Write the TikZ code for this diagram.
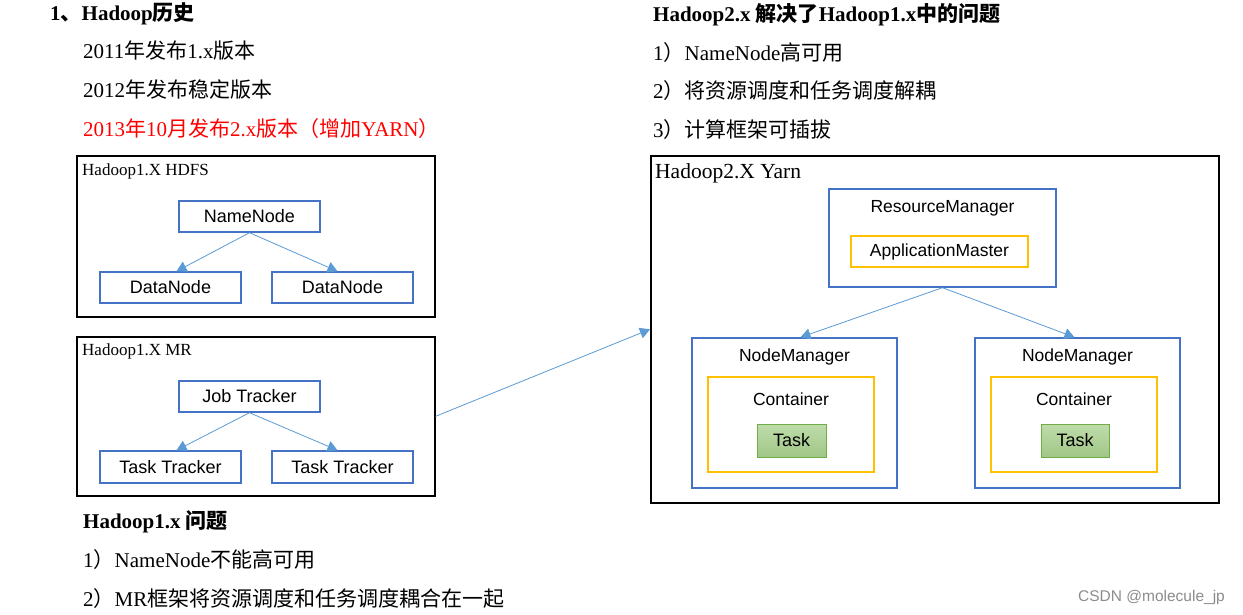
\documentclass[tikz,border=0pt]{standalone}
\usepackage{fontspec}
\setmainfont{Liberation Serif}
\newfontfamily\cjk{Noto Sans CJK SC}
\newfontfamily\arial{Liberation Sans}
\usetikzlibrary{arrows.meta}
\newcommand{\zh}[1]{{\cjk #1}}
\definecolor{bblue}{HTML}{4472C4}
\definecolor{lblue}{HTML}{5B9BD5}
\definecolor{gold}{HTML}{FFC000}
\definecolor{gfill}{HTML}{A9D18E}
\definecolor{gline}{HTML}{70AD47}
\begin{document}
\begin{tikzpicture}[x=1pt,y=-1pt,
  txt/.style={anchor=west,inner sep=0pt,font=\fontsize{21}{25}\selectfont},
  hd/.style={txt,font=\fontsize{21}{25}\selectfont\bfseries},
  frame/.style={draw=black,line width=1.6pt,anchor=north west,inner sep=0pt},
  flabel/.style={anchor=west,inner sep=0pt,font=\fontsize{17}{20}\selectfont},
  bbox/.style={draw=bblue,line width=1.4pt,inner sep=0pt,font=\arial\fontsize{18}{21}\selectfont},
  gbox/.style={draw=gold,line width=1.3pt,inner sep=0pt},
  tbox/.style={draw=gline,line width=0.8pt,top color=gfill!75!white,bottom color=gfill!95!black,inner sep=0pt,font=\arial\fontsize{18}{21}\selectfont},
  lab/.style={inner sep=0pt,font=\arial\fontsize{17.5}{21}\selectfont},
  conn/.style={draw=lblue,line width=0.8pt,-{Triangle[length=10pt,width=11pt]}}
]
\useasboundingbox (0,0) rectangle (1243,615);
\fill[white] (0,0) rectangle (1243,615);

% left texts
\node[hd] (t1) at (50,14) {1\zh{、}Hadoop{\cjk\bfseries 历史}};
\node[txt] (t2) at (83,51) {2011\zh{年发布}1.x\zh{版本}};
\node[txt] (t3) at (83,90) {2012\zh{年发布稳定版本}};
\node[txt,text=red] (t4) at (83,129) {2013\zh{年}10\zh{月发布}2.x\zh{版本（增加}YARN\zh{）}};

% HDFS frame
\node[frame,minimum width=358pt,minimum height=161pt] (hdfs) at (76,155) {};
\node[flabel] (hdfsl) at (82,171) {Hadoop1.X HDFS};
\node[bbox,minimum width=141pt,minimum height=31pt] (nn) at (249.5,216.5) {NameNode};
\node[bbox,minimum width=141pt,minimum height=31pt] (dn1) at (170.5,287.5) {DataNode};
\node[bbox,minimum width=141pt,minimum height=31pt] (dn2) at (342.5,287.5) {DataNode};
\draw[conn] (nn.south) -- ([xshift=6pt]dn1.north);
\draw[conn] (nn.south) -- ([xshift=-5pt]dn2.north);

% MR frame
\node[frame,minimum width=358pt,minimum height=159pt] (mr) at (76,336) {};
\node[flabel] (mrl) at (82,351) {Hadoop1.X MR};
\node[bbox,minimum width=141pt,minimum height=31pt] (jt) at (249.5,396.5) {Job Tracker};
\node[bbox,minimum width=141pt,minimum height=32pt] (tt1) at (170.5,467) {Task Tracker};
\node[bbox,minimum width=141pt,minimum height=32pt] (tt2) at (342.5,467) {Task Tracker};
\draw[conn] (jt.south) -- ([xshift=6pt]tt1.north);
\draw[conn] (jt.south) -- ([xshift=-5pt]tt2.north);

% bottom-left texts
\node[hd] (p0) at (83,522) {Hadoop1.x {\cjk\bfseries 问题}};
\node[txt] (p1) at (83,560) {1\zh{）}NameNode\zh{不能高可用}};
\node[txt] (p2) at (83,599) {2\zh{）}MR\zh{框架将资源调度和任务调度耦合在一起}};

% right texts
\node[hd] (r0) at (653,15) {Hadoop2.x {\cjk\bfseries 解决了}Hadoop1.x{\cjk\bfseries 中的问题}};
\node[txt] (r1) at (653,53) {1\zh{）}NameNode\zh{高可用}};
\node[txt] (r2) at (653,91) {2\zh{）将资源调度和任务调度解耦}};
\node[txt] (r3) at (653,130) {3\zh{）计算框架可插拔}};

% Yarn frame
\node[frame,minimum width=568pt,minimum height=347pt] (yarn) at (650,155) {};
\node[anchor=west,inner sep=0pt,font=\fontsize{21.5}{25}\selectfont] (yarnl) at (655,173) {Hadoop2.X Yarn};

\node[bbox,minimum width=227pt,minimum height=98pt] (rm) at (942.5,238) {};
\node[lab] (rml) at (942.5,208) {ResourceManager};
\node[gbox,minimum width=177pt,minimum height=31pt,font=\arial\fontsize{17.5}{21}\selectfont] (am) at (939.5,251.5) {ApplicationMaster};

\node[bbox,minimum width=205pt,minimum height=150pt] (nm1) at (794.5,413) {};
\node[lab] (nm1l) at (794.5,357) {NodeManager};
\node[gbox,minimum width=166pt,minimum height=95pt] (ct1) at (791,424.5) {};
\node[lab] (ct1l) at (791,399) {Container};
\node[tbox,minimum width=69pt,minimum height=33pt] (task1) at (791.5,440.5) {Task};

\node[bbox,minimum width=205pt,minimum height=150pt] (nm2) at (1077.5,413) {};
\node[lab] (nm2l) at (1077.5,357) {NodeManager};
\node[gbox,minimum width=166pt,minimum height=95pt] (ct2) at (1074,424.5) {};
\node[lab] (ct2l) at (1074,399) {Container};
\node[tbox,minimum width=68pt,minimum height=33pt] (task2) at (1075,440.5) {Task};

\draw[conn] (rm.south) -- ([xshift=6pt]nm1.north);
\draw[conn] (rm.south) -- ([xshift=-3pt]nm2.north);

% MR -> Yarn
\draw[conn] (mr.east) -- (yarn.west);

% watermark
\node[anchor=west,inner sep=0pt,text=black!45,font=\arial\fontsize{15.5}{18}\selectfont] (wm) at (1078,597) {CSDN @molecule\_jp};
\end{tikzpicture}
\end{document}
